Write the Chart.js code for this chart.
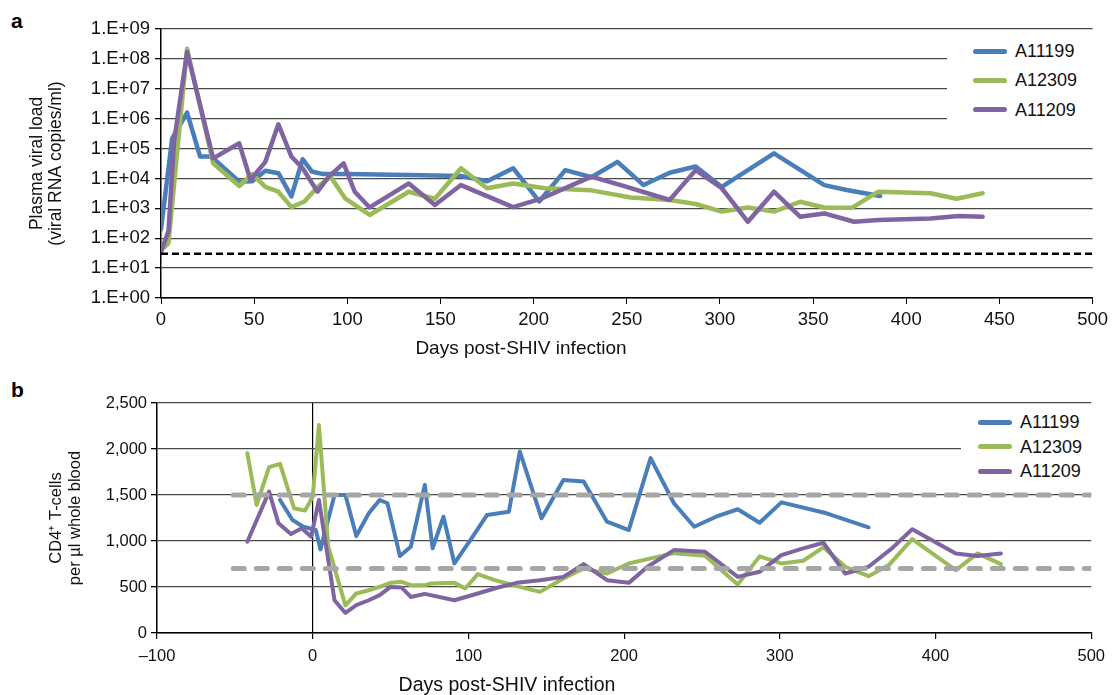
<!DOCTYPE html>
<html>
<head>
<meta charset="utf-8">
<title>SHIV viral load and CD4 counts</title>
<script src="https://cdn.jsdelivr.net/npm/chart.js@4.4.1/dist/chart.umd.min.js"></script>
<style>
    body { margin: 0; background: #fff; font-family: "Liberation Sans", Arial, Helvetica, sans-serif; }
    #page { position: relative; width: 1113px; height: 695px; overflow: hidden; }
    canvas { position: absolute; left: 0; }
    .panel-tag { position: absolute; left: 11px; font-weight: bold; font-size: 21px; line-height: 1; }
    .axis-title { position: absolute; width: 400px; text-align: center; font-size: 19px; line-height: 22px; color: #111; white-space: nowrap; }
    .legend { position: absolute; background: #fff; }
    .legend-item { position: absolute; left: 0; height: 0; white-space: nowrap; font-size: 18px; color: #111; }
    .legend-item .swatch { position: absolute; top: -2.5px; width: 34px; height: 5px; border-radius: 3px; }
    .legend-item .label { position: absolute; top: -11px; line-height: 22px; }
</style>
</head>
<body>
<div id="page">
    <div class="panel-tag" style="top:10px">a</div>
    <div class="panel-tag" style="top:379px">b</div>
    <canvas id="viral-load" width="1113" height="365" style="top:0"></canvas>
    <canvas id="cd4-count" width="1113" height="330" style="top:365px"></canvas>
    <div class="axis-title" style="left:321px; top:337px">Days post-SHIV infection</div>
    <div class="axis-title" style="left:307px; top:673px; font-size:19.5px">Days post-SHIV infection</div>
    <div class="legend" id="legend-a" style="left:947px; top:36px; width:150px; height:96px"></div>
    <div class="legend" id="legend-b" style="left:961px; top:408px; width:136px; height:78px"></div>
</div>
<script>
/* ----- S E R I E S ----- */
const seriesNames = ["A11199", "A12309", "A11209"];
const seriesColors = ["#4a7ebb", "#9bbb59", "#8064a2"];

/* ----- (a) plasma viral load, copies/ml ----- */
const vlDaysA11199 = [0, 6, 14, 21, 27, 42, 49, 56, 63, 70, 76, 81, 87, 99, 133, 161, 175, 189, 203, 217, 231, 245, 259, 273, 287, 301, 329, 356, 368, 386];
const vlA11199 = [2.0e2, 2.2e5, 1.6e6, 5.4e4, 5.4e4, 7.8e3, 8.1e3, 1.8e4, 1.5e4, 2.5e3, 4.4e4, 1.7e4, 1.4e4, 1.4e4, 1.3e4, 1.2e4, 8.1e3, 2.2e4, 1.7e3, 1.9e4, 1.1e4, 3.6e4, 6.0e3, 1.55e4, 2.5e4, 5.2e3, 6.9e4, 6.0e3, 4.1e3, 2.6e3];

const vlDaysA12309 = [0, 4, 14, 28, 42, 49, 56, 63, 70, 77, 84, 91, 99, 112, 133, 147, 161, 175, 189, 206, 231, 252, 273, 287, 301, 315, 329, 343, 356, 371, 385, 413, 427, 441];
const vlA12309 = [40, 68, 2.2e8, 3.2e4, 5.6e3, 1.4e4, 5.2e3, 3.6e3, 1.1e3, 1.7e3, 5.2e3, 1.15e4, 2.1e3, 600, 3.6e3, 2.1e3, 2.2e4, 4.7e3, 6.8e3, 4.7e3, 4.0e3, 2.3e3, 1.9e3, 1.4e3, 780, 1.07e3, 780, 1.66e3, 1.07e3, 1.05e3, 3.6e3, 3.2e3, 2.1e3, 3.2e3];

const vlDaysA11209 = [0, 4, 7, 14, 28, 42, 48, 56, 63, 70, 76, 84, 90, 98, 104, 112, 133, 147, 161, 189, 204, 231, 250, 273, 287, 301, 315, 329, 343, 356, 372, 385, 413, 428, 441];
const vlA11209 = [35, 170, 1.7e5, 1.7e8, 4.7e4, 1.5e5, 8.9e3, 3.6e4, 6.5e5, 5.4e4, 2.2e4, 3.6e3, 1.15e4, 3.2e4, 3.6e3, 1.07e3, 6.8e3, 1.3e3, 6.0e3, 1.1e3, 2.1e3, 1.15e4, 5.2e3, 1.9e3, 1.9e4, 4.7e3, 355, 3.6e3, 525, 676, 355, 407, 457, 550, 525];

const vlLimitDays = [0, 500];
const vlLimit = [30, 30];
const vlDecades = [1, 1e1, 1e2, 1e3, 1e4, 1e5, 1e6, 1e7, 1e8, 1e9];

/* ----- (b) CD4+ T-cells per ul ----- */
const cdDaysA11199 = [-21, -13, -6, 2, 5, 14, 21, 28, 36, 43, 48, 56, 63, 72, 77, 84, 91, 102, 112, 126, 133, 147, 161, 174, 189, 203, 217, 232, 245, 259, 273, 287, 301, 330, 357];
const cdA11199 = [1446, 1228, 1155, 1119, 909, 1501, 1501, 1054, 1301, 1446, 1410, 836, 937, 1610, 920, 1264, 756, 1029, 1283, 1319, 1973, 1247, 1664, 1646, 1210, 1119, 1901, 1410, 1155, 1264, 1345, 1199, 1420, 1301, 1149];

const cdDaysA12309 = [-42, -36, -28, -21, -12, -5, 0, 4, 10, 21, 28, 36, 43, 50, 57, 63, 72, 76, 91, 98, 106, 117, 131, 146, 161, 174, 189, 203, 217, 232, 252, 273, 287, 301, 315, 328, 342, 357, 370, 385, 413, 427, 442];
const cdA12309 = [1955, 1392, 1803, 1839, 1356, 1330, 1482, 2260, 937, 300, 430, 465, 501, 545, 556, 520, 520, 538, 545, 484, 640, 574, 509, 447, 593, 702, 647, 756, 811, 868, 840, 528, 833, 756, 785, 931, 720, 618, 738, 1020, 683, 865, 749];

const cdDaysA11209 = [-42, -28, -22, -14, -7, -1, 4, 14, 21, 28, 36, 43, 50, 57, 63, 72, 91, 106, 119, 131, 146, 161, 174, 189, 203, 215, 232, 252, 273, 287, 301, 315, 328, 342, 357, 372, 385, 413, 427, 442];
const cdA11209 = [992, 1537, 1192, 1076, 1138, 1046, 1446, 356, 218, 302, 356, 411, 501, 495, 392, 425, 356, 429, 495, 545, 574, 610, 749, 574, 545, 720, 901, 883, 610, 665, 847, 920, 981, 647, 720, 920, 1127, 865, 836, 865];

const cdRefDays = [-51, 500];
const cdUpperRef = [1500, 1500];
const cdLowerRef = [700, 700];

/* ----- S E T T I N G S ----- */
const
    FONT_FAMILY = '"Liberation Sans", Arial, Helvetica, sans-serif',
    TEXT_COLOR = "#111",
    GRID_COLOR = "#4a4a4a",
    tickFontA = { family: FONT_FAMILY, size: 18.5 },
    tickFontB = { family: FONT_FAMILY, size: 16.5 },
    titleFontA = { family: FONT_FAMILY, size: 17.5, lineHeight: 1.08 },
    titleFontB = { family: FONT_FAMILY, size: 16.5, lineHeight: 1.15 };

Chart.defaults.color = TEXT_COLOR;
Chart.defaults.font.family = FONT_FAMILY;

function points(days, values) {
    return days.map((d, i) => ({ x: d, y: values[i] }));
}

function seriesDataset(idx, days, values, width) {
    return {
        label: seriesNames[idx],
        data: points(days, values),
        borderColor: seriesColors[idx],
        borderWidth: width,
        borderJoinStyle: "round",
        borderCapStyle: "round",
        pointRadius: 0,
        tension: 0,
        order: 3 - idx,
    };
}

function refDataset(label, days, values, color, width, dash, cap) {
    return {
        label: label,
        data: points(days, values),
        borderColor: color,
        borderWidth: width,
        borderDash: dash,
        borderCapStyle: cap,
        pointRadius: 0,
        order: 0,
    };
}

function sciLabel(v) {
    const e = Math.round(Math.log10(v));
    return "1.E+" + String(e).padStart(2, "0");
}

/**
 * builds the legend as html, white box hides the gridlines behind it
 */
function buildLegend(el, firstY, step, swatchX) {
    seriesNames.forEach((name, i) => {
        const item = document.createElement("div");
        item.className = "legend-item";
        item.style.top = (firstY + i * step) + "px";
        item.innerHTML = `<span class="swatch" style="left:${swatchX}px;background:${seriesColors[i]}"></span>` +
            `<span class="label" style="left:${swatchX + 42}px">${name}</span>`;
        el.appendChild(item);
    });
}

/* ----- (a) V I R A L - L O A D ----- */
new Chart(document.getElementById("viral-load"), {
    type: "line",
    data: {
        datasets: [
            refDataset("detection limit", vlLimitDays, vlLimit, "#000", 2.5, [7, 4], "butt"),
            seriesDataset(0, vlDaysA11199, vlA11199, 4.5),
            seriesDataset(1, vlDaysA12309, vlA12309, 4.5),
            seriesDataset(2, vlDaysA11209, vlA11209, 4.5),
        ],
    },
    options: {
        responsive: false,
        animation: false,
        layout: { padding: { left: 0, right: 17, top: 29, bottom: 0 } },
        plugins: { legend: { display: false }, tooltip: { enabled: false } },
        scales: {
            x: {
                type: "linear",
                min: 0,
                max: 500,
                ticks: { stepSize: 50, font: tickFontA, padding: 5, maxRotation: 0 },
                grid: { drawOnChartArea: false, tickLength: 6, tickColor: "#000" },
                border: { color: "#000", width: 1.5 },
                afterFit: (scale) => { scale.height = 67; },
            },
            y: {
                type: "logarithmic",
                min: 1,
                max: 1e9,
                afterBuildTicks: (scale) => { scale.ticks = vlDecades.map(v => ({ value: v })); },
                ticks: { font: tickFontA, padding: 5, callback: (v) => sciLabel(v) },
                grid: { color: GRID_COLOR, lineWidth: 1.3, tickLength: 6, tickColor: "#000" },
                border: { color: "#000", width: 1.5 },
                title: { display: true, text: ["Plasma viral load", "(viral RNA copies/ml)"], font: titleFontA, padding: { top: 28 } },
                afterFit: (scale) => { scale.width = 161; },
            },
        },
    },
});

/* ----- (b) C D 4 - C O U N T S ----- */
new Chart(document.getElementById("cd4-count"), {
    type: "line",
    data: {
        datasets: [
            refDataset("upper reference", cdRefDays, cdUpperRef, "#a6a6a6", 5, [11, 12], "round"),
            refDataset("lower reference", cdRefDays, cdLowerRef, "#a6a6a6", 5, [11, 12], "round"),
            seriesDataset(0, cdDaysA11199, cdA11199, 4),
            seriesDataset(1, cdDaysA12309, cdA12309, 4),
            seriesDataset(2, cdDaysA11209, cdA11209, 4),
        ],
    },
    options: {
        responsive: false,
        animation: false,
        layout: { padding: { left: 0, right: 16, top: 38, bottom: 0 } },
        plugins: { legend: { display: false }, tooltip: { enabled: false } },
        scales: {
            x: {
                type: "linear",
                min: -100,
                max: 500,
                ticks: {
                    stepSize: 100, font: tickFontB, padding: 8, maxRotation: 0,
                    callback: (v) => (v < 0 ? "\u2013" + Math.abs(v) : String(v)),
                },
                grid: {
                    color: (ctx) => (ctx.tick && ctx.tick.value === 0 ? "#000" : "rgba(0,0,0,0)"),
                    lineWidth: 1.2,
                    tickLength: 6,
                    tickColor: "#000",
                },
                border: { color: "#000", width: 1.5 },
                afterFit: (scale) => { scale.height = 62; },
            },
            y: {
                min: 0,
                max: 2500,
                ticks: { stepSize: 500, font: tickFontB, padding: 4, callback: (v) => v.toLocaleString("en-US") },
                grid: { color: GRID_COLOR, lineWidth: 1.3, tickLength: 6, tickColor: "#000" },
                border: { color: "#000", width: 1.5 },
                title: { display: true, text: ["CD4\u207A T-cells", "per \u00B5l whole blood"], font: titleFontB, padding: { top: 47 } },
                afterFit: (scale) => { scale.width = 157; },
            },
        },
    },
});

buildLegend(document.getElementById("legend-a"), 15, 29.3, 26);
buildLegend(document.getElementById("legend-b"), 14, 24.5, 17);
</script>
</body>
</html>
